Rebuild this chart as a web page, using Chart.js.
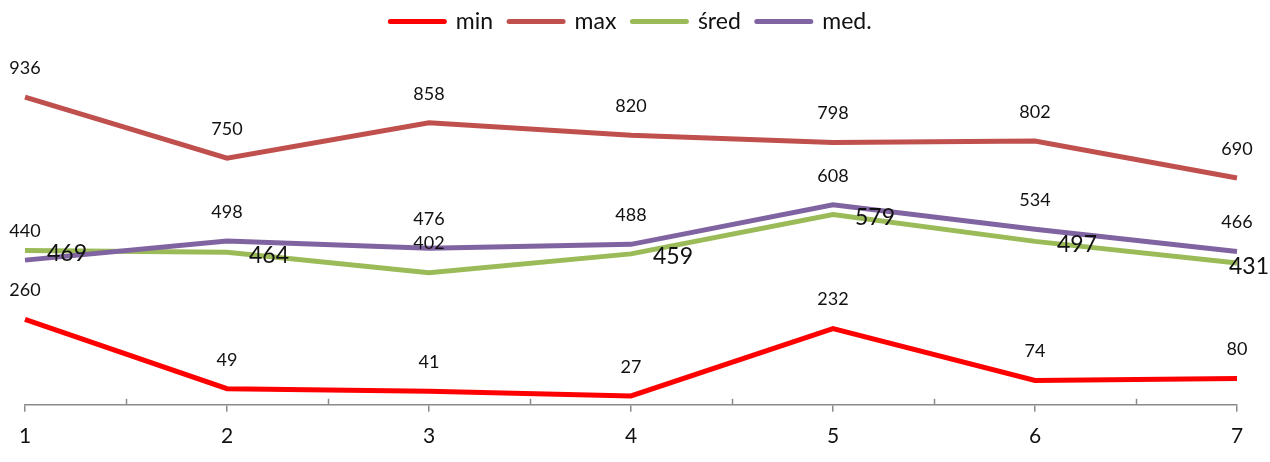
<!DOCTYPE html>
<html>
<head>
<meta charset="utf-8">
<script src="https://cdn.jsdelivr.net/npm/chart.js@4"></script>
<style>
  html, body { margin: 0; padding: 0; background: #fff; }
  #wrap { width: 1270px; height: 462px; }
</style>
</head>
<body>
<div id="wrap"><canvas id="c" width="1270" height="462"></canvas></div>
<script>
const categories = ['1', '2', '3', '4', '5', '6', '7'];
const seriesNames = ['min', 'max', 'śred', 'med.'];
const minValues = [260, 49, 41, 27, 232, 74, 80];
const maxValues = [936, 750, 858, 820, 798, 802, 690];
const sredValues = [469, 464, 402, 459, 579, 497, 431];
const medValues = [440, 498, 476, 488, 608, 534, 466];

const FONT = 'Lato, "Open Sans", sans-serif';
const colors = ['#FF0000', '#C0504D', '#9BBB59', '#8064A2'];

// label placement style per dataset ('above' small, 'right' large)
function labelMode(ds, i) {
  if (ds === 2) return i === 2 ? 'above' : 'right';
  return 'above';
}

const legendGap = {
  id: 'legendGap',
  beforeLayout(chart) {
    const l = chart.legend;
    if (l && !l._patched) {
      const f = l.fit.bind(l);
      l.fit = function () { f(); this.height = 82; };
      l._patched = true;
    }
  }
};

const minorTicks = {
  id: 'minorTicks',
  afterDatasetsDraw(chart) {
    const xs = chart.scales.x;
    const ctx = chart.ctx;
    const b = chart.chartArea.bottom;
    ctx.save();
    ctx.strokeStyle = '#8a8a8a';
    ctx.lineWidth = 1.5;
    for (let i = 0; i < categories.length - 1; i++) {
      const x = Math.round(xs.getPixelForValue(i + 0.5)) + 0.5;
      ctx.beginPath();
      ctx.moveTo(x, b - 6);
      ctx.lineTo(x, b);
      ctx.stroke();
    }
    ctx.restore();
  }
};

const dataLabels = {
  id: 'dataLabels',
  afterDatasetsDraw(chart) {
    const ctx = chart.ctx;
    ctx.save();
    ctx.fillStyle = '#111';
    chart.data.datasets.forEach((ds, di) => {
      const meta = chart.getDatasetMeta(di);
      meta.data.forEach((pt, i) => {
        const txt = String(ds.data[i]);
        const mode = labelMode(di, i);
        if (mode === 'above') {
          ctx.font = '18px ' + FONT;
          ctx.textAlign = 'center';
          ctx.textBaseline = 'middle';
          ctx.fillText(txt, pt.x, pt.y - 29);
        } else {
          ctx.font = '23px ' + FONT;
          ctx.textAlign = 'left';
          ctx.textBaseline = 'middle';
          const w = ctx.measureText(txt).width;
          let x = pt.x + 22;
          if (x + w > chart.width - 1) x = chart.width - 1 - w;
          ctx.fillText(txt, x, pt.y + 3);
        }
      });
    });
    ctx.restore();
  }
};

const seriesData = [minValues, maxValues, sredValues, medValues];

new Chart(document.getElementById('c'), {
  type: 'line',
  data: {
    labels: categories,
    datasets: seriesData.map((d, k) => ({
      label: seriesNames[k],
      data: d,
      borderColor: colors[k],
      backgroundColor: colors[k],
      borderWidth: 5,
      pointRadius: 0,
      tension: 0,
      fill: false,
      order: 4 - k
    }))
  },
  options: {
    responsive: false,
    animation: false,
    devicePixelRatio: 1,
    layout: { padding: { left: 25, right: 33, top: -6, bottom: 1 } },
    plugins: {
      tooltip: { enabled: false },
      legend: {
        position: 'top',
        labels: {
          usePointStyle: true,
          pointStyle: 'line',
          pointStyleWidth: 54,
          padding: 16,
          color: '#111',
          font: { family: FONT, size: 23 },
          sort: (a, b) => a.datasetIndex - b.datasetIndex,
          generateLabels(chart) {
            const items = Chart.defaults.plugins.legend.labels.generateLabels(chart);
            return items.map(it => Object.assign(it, { lineWidth: 5, lineCap: 'round' }));
          }
        }
      }
    },
    scales: {
      x: {
        type: 'category',
        offset: false,
        grid: { display: true, drawOnChartArea: false, drawTicks: true, tickLength: 7, color: '#8a8a8a', lineWidth: 1.5 },
        border: { display: true, color: '#8a8a8a', width: 1.5 },
        ticks: { color: '#111', padding: 12, maxRotation: 0, font: { family: FONT, size: 21 } }
      },
      y: {
        display: false,
        min: 0,
        max: 1000
      }
    }
  },
  plugins: [legendGap, minorTicks, dataLabels]
});
</script>
</body>
</html>
